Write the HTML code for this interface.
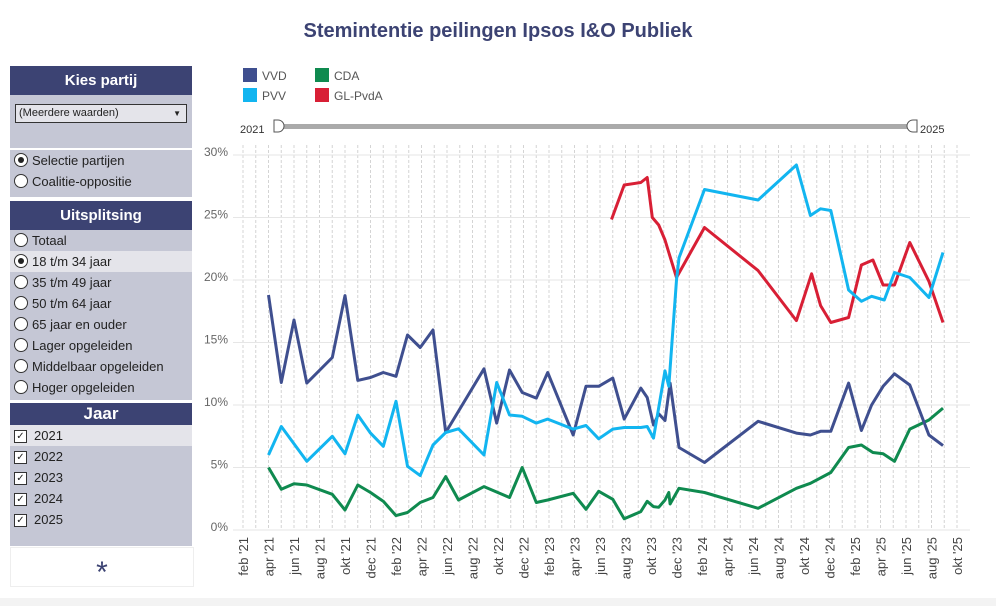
<!DOCTYPE html>
<html><head><meta charset="utf-8">
<style>
body{margin:0;width:996px;height:606px;background:#fff;font-family:"Liberation Sans",sans-serif;position:relative;overflow:hidden}
.side{position:absolute;left:10px;width:182px;background:#c5c7d5;color:#222;font-size:13px}
.hd{background:#3c4373;color:#fff;font-weight:bold;font-size:15px;text-align:center}
.row{height:21px;line-height:21px;padding-left:4px;position:relative}
.rad{display:inline-block;width:12px;height:12px;border:1px solid #333;border-radius:50%;background:#fff;vertical-align:-2px;margin-right:4px;position:relative}
.rad.on::after{content:"";position:absolute;left:3px;top:3px;width:6px;height:6px;border-radius:50%;background:#222}
.chk{display:inline-block;width:11px;height:11px;border:1px solid #333;background:#fff;vertical-align:middle;margin-right:7px;font-size:10px;line-height:11px;text-align:center}
.sel{background:#e4e4ea}
</style></head><body>
<div style="position:absolute;left:0;width:996px;top:20px;text-align:center;font-size:20px;font-weight:bold;color:#3c4373">Stemintentie peilingen Ipsos I&amp;O Publiek</div>

<div class="side" style="top:66px;height:82px">
 <div class="hd" style="height:29px;line-height:29px">Kies partij</div>
 <div style="margin:9px 5px;height:17px;border:1px solid #333;background:#e4e4ea;font-size:11px;line-height:17px;padding-left:3px;position:relative">(Meerdere waarden)<span style="position:absolute;right:5px;font-size:8px">▼</span></div>
</div>
<div class="side" style="top:150px;height:47px;padding-top:0">
 <div class="row"><span class="rad on"></span>Selectie partijen</div>
 <div class="row"><span class="rad"></span>Coalitie-oppositie</div>
</div>
<div class="side" style="top:201px;height:199px">
 <div class="hd" style="height:29px;line-height:29px">Uitsplitsing</div>
 <div class="row"><span class="rad"></span>Totaal</div>
 <div class="row sel"><span class="rad on"></span>18 t/m 34 jaar</div>
 <div class="row"><span class="rad"></span>35 t/m 49 jaar</div>
 <div class="row"><span class="rad"></span>50 t/m 64 jaar</div>
 <div class="row"><span class="rad"></span>65 jaar en ouder</div>
 <div class="row"><span class="rad"></span>Lager opgeleiden</div>
 <div class="row"><span class="rad"></span>Middelbaar opgeleiden</div>
 <div class="row"><span class="rad"></span>Hoger opgeleiden</div>
</div>
<div class="side" style="top:403px;height:143px">
 <div class="hd" style="height:22px;line-height:22px;font-size:17px">Jaar</div>
 <div class="row sel"><span class="chk">✓</span>2021</div>
 <div class="row"><span class="chk">✓</span>2022</div>
 <div class="row"><span class="chk">✓</span>2023</div>
 <div class="row"><span class="chk">✓</span>2024</div>
 <div class="row"><span class="chk">✓</span>2025</div>
</div>
<div style="position:absolute;left:10px;top:547px;width:182px;height:38px;border:1px solid #eee;text-align:center;font-size:30px;line-height:50px;color:#3c4373">*</div>
<div style="position:absolute;left:0;top:598px;width:996px;height:8px;background:#f3f3f3"></div>

<svg id="chart" width="996" height="606" style="position:absolute;left:0;top:0" font-family="Liberation Sans, sans-serif">
 <g font-size="12" fill="#555">
  <rect x="243" y="68" width="14" height="14" fill="#3f4f8f"/><text x="262" y="80">VVD</text>
  <rect x="315" y="68" width="14" height="14" fill="#0f8a4f"/><text x="334" y="80">CDA</text>
  <rect x="243" y="88" width="14" height="14" fill="#12b5f0"/><text x="262" y="100">PVV</text>
  <rect x="315" y="88" width="14" height="14" fill="#d81f35"/><text x="334" y="100">GL-PvdA</text>
 </g>
 <g>
  <text x="240" y="133" font-size="11" fill="#333">2021</text>
  <rect x="274" y="124" width="640" height="5" fill="#aaa"/>
  <path d="M274 120h4a6 6 0 0 1 0 12h-4z" fill="#fff" stroke="#555"/>
  <path d="M917 120h-4a6 6 0 0 0 0 12h4z" fill="#fff" stroke="#555"/>
  <text x="920" y="133" font-size="11" fill="#333">2025</text>
 </g>
 <g id="grid"></g><g id="axes"></g><g id="lines"></g>
</svg>
<script>
const months=["jan","feb","mrt","apr","mei","jun","jul","aug","sep","okt","nov","dec"];
const yTicks=[0,5,10,15,20,25,30];
const vvdMonths=[3,4,5,6,8,9,10,11,12,13,13.9,14.9,15.9,16.9,19.9,20.9,21.9,22.9,24,24.9,26.9,27.9,28.9,30,30.9,32.2,32.7,33.2,33.6,34.1,34.5,35.2,37.2,41.4,44.4,45.5,46.3,47.1,48.5,49.5,50.3,51.2,52.1,53.3,54.8,55.9];
const vvdValues=[18.8,11.8,16.8,11.75,13.8,18.75,11.97,12.2,12.6,12.3,15.6,14.6,16.0,7.8,12.9,8.55,12.8,11.0,10.55,12.6,7.6,11.5,11.5,12.15,8.87,11.35,10.6,8.4,9.3,8.76,11.75,6.6,5.4,8.7,7.75,7.6,7.9,7.9,11.75,7.96,10.0,11.5,12.5,11.6,7.6,6.75];
const pvvMonths=[3,4,6,8,9,10,11,12,13,13.9,14.9,15.9,16.9,17.9,19.9,20.9,21.9,22.9,24,24.9,26.9,27.9,28.9,30,30.9,32.2,32.7,33.2,34.1,34.4,35,35.2,37.2,41.4,44.4,45.5,46.3,47.1,48.5,49.5,50.3,51.3,52.1,53.3,54.8,55.9];
const pvvValues=[6.0,8.28,5.5,7.5,6.1,9.2,7.75,6.7,10.3,5.1,4.35,6.8,7.8,8.1,6.0,11.8,9.2,9.1,8.55,8.87,8.07,8.36,7.3,8.07,8.2,8.2,8.28,7.35,12.74,11.5,20.0,21.77,27.24,26.4,29.2,25.16,25.7,25.56,19.2,18.3,18.7,18.4,20.6,20.2,18.6,22.2];
const cdaMonths=[3,4,5,6,8,9,10,11,12,13,13.9,14.9,15.9,16.9,17.9,19.9,21.9,22.9,24,24.9,26.9,27.9,28.9,30,30.9,32.2,32.7,33.2,33.6,34.1,34.4,34.5,35.2,37.2,41.4,44.4,45.5,47.1,48.5,49.5,50.4,51.2,52.1,53.3,54.8,55.9];
const cdaValues=[5.0,3.26,3.7,3.6,2.86,1.6,3.6,3.0,2.3,1.15,1.4,2.2,2.6,4.27,2.4,3.47,2.6,5.0,2.2,2.4,2.94,1.66,3.1,2.46,0.9,1.47,2.3,1.87,1.82,2.4,3.0,2.08,3.34,3.0,1.74,3.34,3.74,4.6,6.6,6.8,6.2,6.1,5.5,8.07,8.8,9.75];
const glMonths=[29.9,30.9,32.2,32.7,33.1,33.6,34.1,34.4,35,37.2,41.4,44.4,45.6,46.3,47.1,48.5,49.5,50.4,51.2,52.1,53.3,54.8,55.9];
const glValues=[24.84,27.6,27.8,28.2,25.0,24.4,23.2,22.2,20.2,24.2,20.75,16.75,20.5,17.95,16.6,17.0,21.2,21.6,19.6,19.6,23.0,19.9,16.6];

const X=m=>230.25+m*12.75, Y=v=>530-v*12.5;
const NS="http://www.w3.org/2000/svg";
function mk(tag,attrs,parent){const e=document.createElementNS(NS,tag);for(const k in attrs)e.setAttribute(k,attrs[k]);parent.appendChild(e);return e;}
const grid=document.getElementById('grid'),axes=document.getElementById('axes'),lines=document.getElementById('lines');
for(let m=1;m<=57;m++){
 const l=mk('line',{x1:X(m),x2:X(m),y1:145,y2:530,stroke:'#d4d4d4','stroke-dasharray':'3,2','stroke-width':1},grid);
 
 
 if(m%2==1){
  const yr=String(21+Math.floor(m/12)).padStart(2,'0');
  const t=mk('text',{x:0,y:0,transform:`translate(${X(m)+5},537) rotate(-90)`,'text-anchor':'end','font-size':13,fill:'#444'},axes);
  t.textContent=months[m%12]+" '"+yr;
  
  
 }
}
yTicks.forEach(v=>{
 const l=mk('line',{x1:233,x2:970,y1:Y(v),y2:Y(v),stroke:'#e6e6e6'},grid);
 
 
 const t=mk('text',{x:228,y:Y(v)+1,'text-anchor':'end','font-size':12,fill:'#666'},axes);
 t.textContent=v+'%';
 
 
});
function series(ms,vs,color,name){
 const d=ms.map((m,i)=>(i?'L':'M')+X(m).toFixed(1)+' '+Y(vs[i]).toFixed(1)).join('');
 const p=mk('path',{d:d,fill:'none',stroke:color,'stroke-width':3,'stroke-linejoin':'round'},lines);
 
 
}
series(cdaMonths,cdaValues,'#0f8a4f','cda-line');
series(vvdMonths,vvdValues,'#3f4f8f','vvd-line');
series(glMonths,glValues,'#d81f35','gl-pvda-line');
series(pvvMonths,pvvValues,'#12b5f0','pvv-line');
</script>
</body></html>
